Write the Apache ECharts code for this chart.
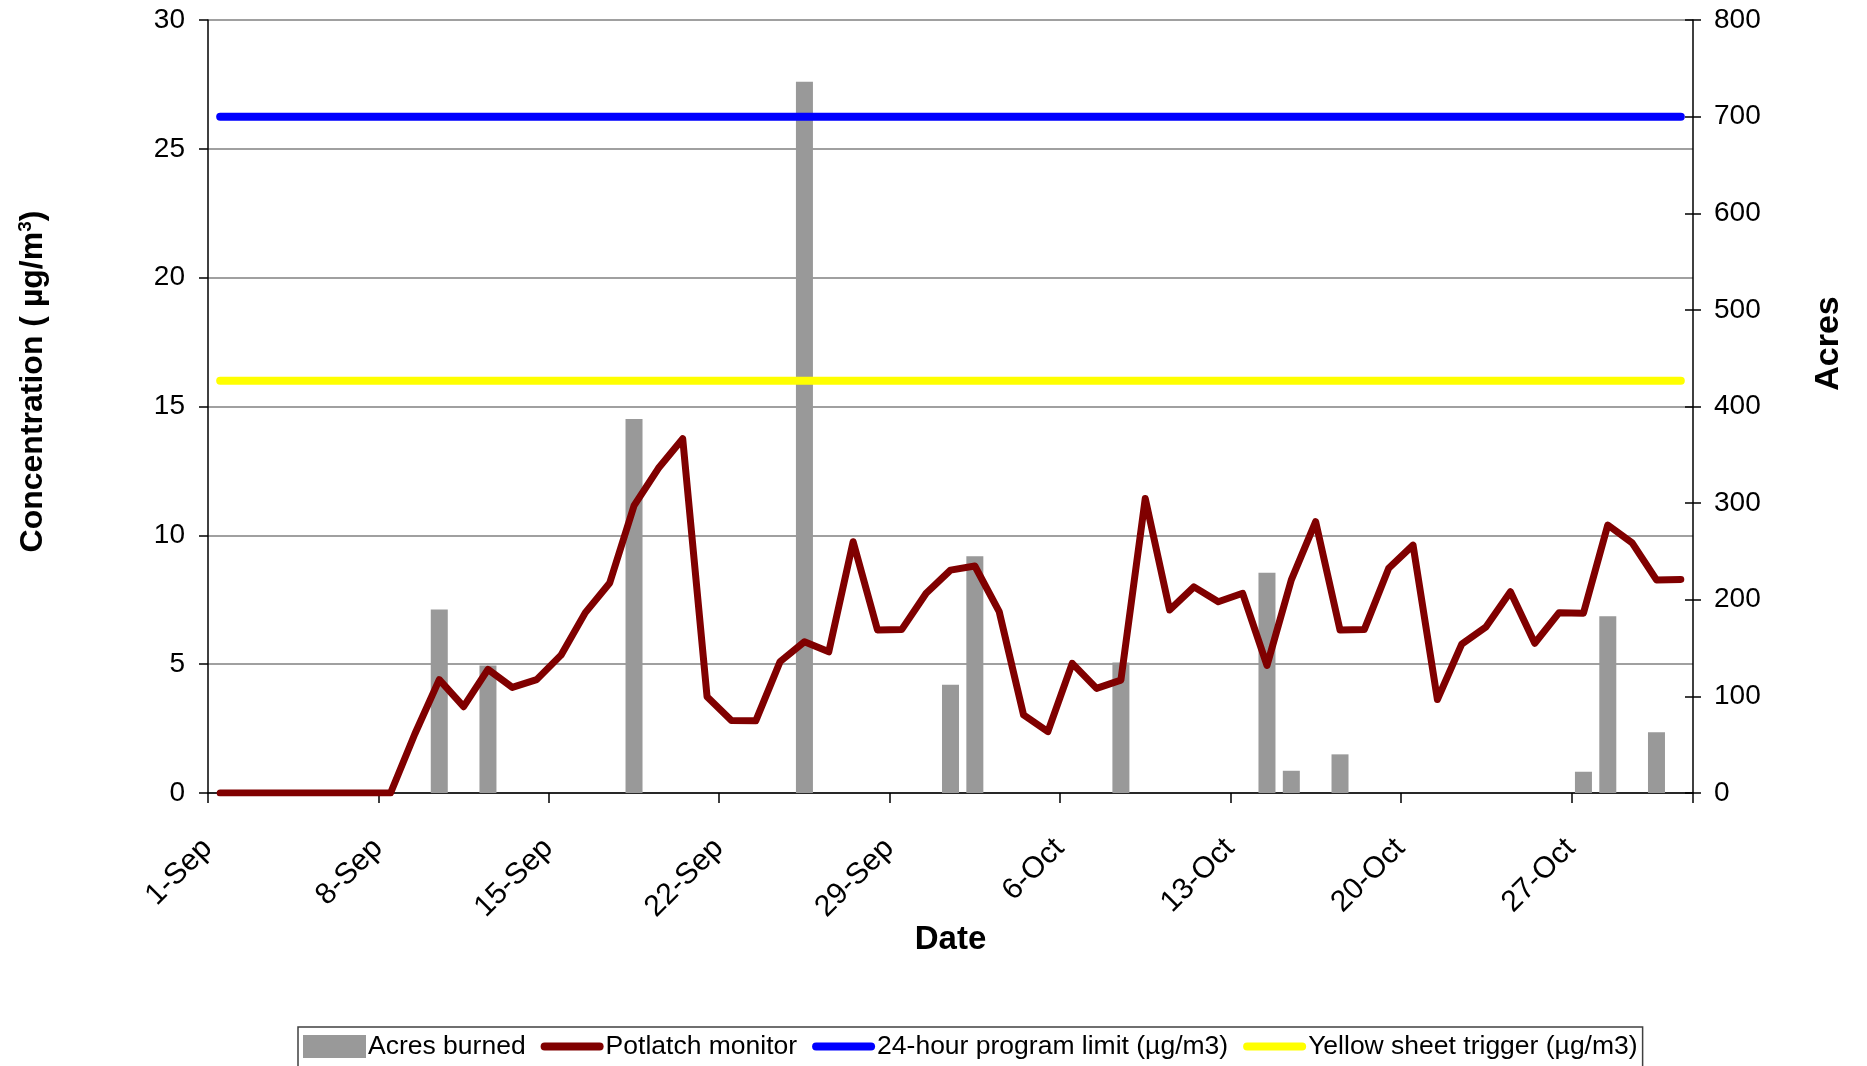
<!DOCTYPE html>
<html>
<head>
<meta charset="utf-8">
<script src="https://cdn.jsdelivr.net/npm/echarts@6/dist/echarts.min.js"></script>
<style>
html,body{margin:0;padding:0;background:#ffffff;}
#chart{width:1867px;height:1066px;}
</style>
</head>
<body>
<div id="chart"></div>
<script>
// ---- data ----
const categories = [
  '1-Sep','2-Sep','3-Sep','4-Sep','5-Sep','6-Sep','7-Sep','8-Sep','9-Sep','10-Sep',
  '11-Sep','12-Sep','13-Sep','14-Sep','15-Sep','16-Sep','17-Sep','18-Sep','19-Sep','20-Sep',
  '21-Sep','22-Sep','23-Sep','24-Sep','25-Sep','26-Sep','27-Sep','28-Sep','29-Sep','30-Sep',
  '1-Oct','2-Oct','3-Oct','4-Oct','5-Oct','6-Oct','7-Oct','8-Oct','9-Oct','10-Oct',
  '11-Oct','12-Oct','13-Oct','14-Oct','15-Oct','16-Oct','17-Oct','18-Oct','19-Oct','20-Oct',
  '21-Oct','22-Oct','23-Oct','24-Oct','25-Oct','26-Oct','27-Oct','28-Oct','29-Oct','30-Oct','31-Oct'
];

// Potlatch monitor concentration (µg/m3), one value per day
const potlatchMonitor = [
  0, 0, 0, 0, 0, 0, 0, 0, 2.3, 4.4,
  3.35, 4.8, 4.1, 4.4, 5.35, 7.0, 8.15, 11.15, 12.6, 13.75,
  3.74, 2.81, 2.8, 5.1, 5.87, 5.48, 9.75, 6.33, 6.35, 7.75,
  8.65, 8.81, 7.04, 3.03, 2.38, 5.03, 4.06, 4.38, 11.43, 7.1,
  8.0, 7.42, 7.75, 4.95, 8.27, 10.53, 6.33, 6.35, 8.72, 9.62,
  3.63, 5.78, 6.45, 7.81, 5.81, 7.0, 6.98, 10.4, 9.71, 8.27, 8.29
];

// Acres burned, one value per day (null = no burn)
const acresBurned = [
  null, null, null, null, null, null, null, null, null, 190,
  null, 132, null, null, null, null, null, 387, null, null,
  null, null, null, null, 736, null, null, null, null, null,
  112, 245, null, null, null, null, null, 135, null, null,
  null, null, null, 228, 23, null, 40, null, null, null,
  null, null, null, null, null, null, 22, 183, null, 63, null
];

const programLimit = 26.25;   // 24-hour program limit (µg/m3)
const yellowTrigger = 16;     // Yellow sheet trigger (µg/m3)

const leftAxisMin = 0, leftAxisMax = 30, leftAxisStep = 5;
const rightAxisMin = 0, rightAxisMax = 800, rightAxisStep = 100;

// ---- chart ----
const FONT = "'Liberation Sans', Arial, Helvetica, sans-serif";
const chart = echarts.init(document.getElementById('chart'), null, {renderer: 'canvas'});

const firstCat = categories[0];
const lastCat = categories[categories.length - 1];
const LINE_ICON = 'path://M4,0 L59,0 A4,4 0 0 1 59,8 L4,8 A4,4 0 0 1 4,0 Z';

const option = {
  animation: false,
  backgroundColor: '#ffffff',
  textStyle: {fontFamily: FONT, color: '#000'},
  grid: {left: 208, right: 174, top: 20, bottom: 273, containLabel: false},
  legend: {
    left: 298, top: 1027,
    orient: 'horizontal',
    padding: [6, 5, 30, 5],
    itemWidth: 63, itemHeight: 23, itemGap: 15,
    symbolKeepAspect: true,
    borderColor: '#404040', borderWidth: 1.5,
    textStyle: {fontFamily: FONT, fontSize: 26.5, color: '#000', padding: [0, 0, 0, -3]},
    data: [
      {name: 'Acres burned', icon: 'rect'},
      {name: 'Potlatch monitor', icon: LINE_ICON},
      {name: '24-hour program limit (µg/m3)', icon: LINE_ICON},
      {name: 'Yellow sheet trigger (µg/m3)', icon: LINE_ICON}
    ]
  },
  xAxis: {
    type: 'category',
    data: categories,
    boundaryGap: true,
    name: 'Date',
    nameLocation: 'middle',
    nameGap: 130,
    nameMoveOverlap: false,
    nameTextStyle: {fontFamily: FONT, fontSize: 33, fontWeight: 'bold', color: '#000'},
    axisLine: {lineStyle: {color: '#000', width: 1.5}},
    axisTick: {show: true, interval: 6, alignWithLabel: false, length: 10, lineStyle: {color: '#000', width: 1.5}},
    axisLabel: {interval: 6, rotate: 45, margin: 38, padding: [0, 18, 0, 0],
      fontFamily: FONT, fontSize: 30, color: '#000'},
    splitLine: {show: false}
  },
  yAxis: [
    {
      type: 'value', position: 'left',
      min: leftAxisMin, max: leftAxisMax, interval: leftAxisStep,
      name: 'Concentration ( µg/m{sup|3})',
      nameLocation: 'middle', nameRotate: 90, nameGap: 158,
      nameTextStyle: {fontFamily: FONT, fontSize: 32, fontWeight: 'bold', color: '#000',
        padding: [0, 0, 0, 50],
        rich: {sup: {fontFamily: FONT, fontSize: 19, fontWeight: 'bold', color: '#000', padding: [0, 0, 15, 0]}}},
      axisLine: {show: true, lineStyle: {color: '#000', width: 1.5}},
      axisTick: {show: true, inside: false, length: 9, lineStyle: {color: '#000', width: 1.5}},
      axisLabel: {margin: 23, fontFamily: FONT, fontSize: 28, color: '#000'},
      splitLine: {show: true, lineStyle: {color: '#808080', width: 1.5}}
    },
    {
      type: 'value', position: 'right',
      min: rightAxisMin, max: rightAxisMax, interval: rightAxisStep,
      name: 'Acres',
      nameLocation: 'middle', nameRotate: 90, nameGap: 119,
      nameTextStyle: {fontFamily: FONT, fontSize: 34, fontWeight: 'bold', color: '#000',
        padding: [0, 0, 0, 126]},
      axisLine: {show: true, lineStyle: {color: '#000', width: 1.5}},
      axisTick: {show: true, inside: false, length: 8, lineStyle: {color: '#000', width: 1.5}},
      axisLabel: {margin: 21, fontFamily: FONT, fontSize: 28, color: '#000'},
      splitLine: {show: false}
    },
    {
      type: 'value', position: 'right',
      min: rightAxisMin, max: rightAxisMax, interval: rightAxisStep,
      axisLine: {show: false},
      axisTick: {show: true, inside: true, length: 8, lineStyle: {color: '#000', width: 1.5}},
      axisLabel: {show: false},
      splitLine: {show: false}
    }
  ],
  series: [
    {
      name: 'Acres burned', type: 'bar', yAxisIndex: 1,
      data: acresBurned, barWidth: 17,
      itemStyle: {color: '#999999'}
    },
    {
      name: 'Potlatch monitor', type: 'line', yAxisIndex: 0,
      data: potlatchMonitor, symbol: 'none', showSymbol: false,
      lineStyle: {color: '#800000', width: 7, cap: 'round', join: 'round'},
      itemStyle: {color: '#800000'}
    },
    {
      name: '24-hour program limit (µg/m3)', type: 'line', yAxisIndex: 0,
      data: [[firstCat, programLimit], [lastCat, programLimit]],
      symbol: 'none', showSymbol: false,
      lineStyle: {color: '#0000ff', width: 8, cap: 'round'},
      itemStyle: {color: '#0000ff'}
    },
    {
      name: 'Yellow sheet trigger (µg/m3)', type: 'line', yAxisIndex: 0,
      data: [[firstCat, yellowTrigger], [lastCat, yellowTrigger]],
      symbol: 'none', showSymbol: false,
      lineStyle: {color: '#ffff00', width: 8, cap: 'round'},
      itemStyle: {color: '#ffff00'}
    }
  ]
};
chart.setOption(option);
</script>
</body>
</html>
